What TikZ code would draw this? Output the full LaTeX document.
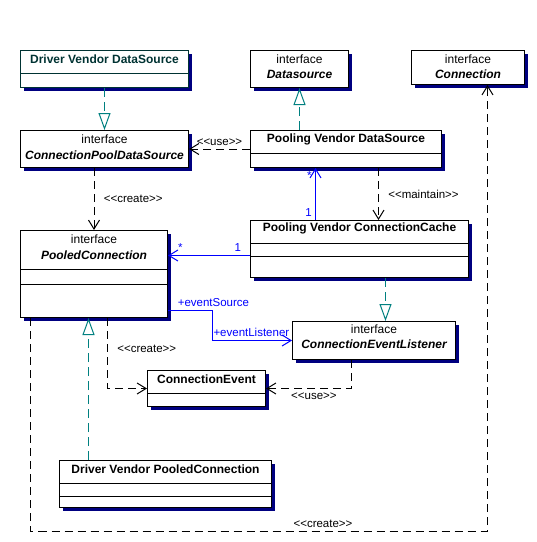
\documentclass[tikz,border=0pt]{standalone}
\usepackage{fontspec}
\setmainfont{Liberation Sans}
\usetikzlibrary{arrows.meta,shadows,positioning}
\definecolor{umlteal}{RGB}{0,128,128}
\definecolor{umlnavy}{RGB}{0,0,128}
\definecolor{umldark}{RGB}{0,51,51}
\definecolor{umlblue}{RGB}{0,0,255}
\begin{document}
\begin{tikzpicture}[
    x=1pt, y=-1pt,
    font=\fontsize{12}{14}\selectfont,
    cls/.style={draw, line width=1pt, fill=white, anchor=north west, inner sep=0pt,
        drop shadow={shadow xshift=3pt, shadow yshift=-3pt, fill=umlnavy, opacity=1}},
    cname/.style={font=\fontsize{12}{14}\selectfont\bfseries},
    iname/.style={font=\fontsize{12}{14}\selectfont\bfseries\itshape},
    stereo/.style={font=\fontsize{11.5}{13}\selectfont},
    sep/.style={line width=1pt},
    real/.style={draw=umlteal, line width=1pt, dash pattern=on 9pt off 5pt,
        -{Triangle[open, length=17pt, width=12pt, line width=1pt, fill=white]}},
    dep/.style={line width=1pt, dash pattern=on 8pt off 5pt,
        -{Straight Barb[length=9pt, width=11pt, line width=1pt]}},
    assoc/.style={draw=umlblue, line width=1pt,
        -{Straight Barb[length=9pt, width=11pt, line width=1pt]}},
    role/.style={text=umlblue, font=\fontsize{11.5}{13}\selectfont}
]
    \useasboundingbox (0,0) rectangle (537,542);

    % top row
    \node[cls, draw=umldark, minimum width=168, minimum height=37] (dvds) at (20,50) {};
    \node[cname, text=umldark] (dvds-t) at ([yshift=-9]dvds.north) {Driver Vendor DataSource};
    \draw[sep, umldark] (dvds.west |- 0,73) -- (dvds.east |- 0,73);

    \node[cls, minimum width=98, minimum height=37] (ds) at (250,50) {};
    \node (ds-s) at ([yshift=-9]ds.north) {interface};
    \node[iname] (ds-t) at ([yshift=-24]ds.north) {Datasource};

    \node[cls, minimum width=113, minimum height=34] (conn) at (411,50) {};
    \node (conn-s) at ([yshift=-9]conn.north) {interface};
    \node[iname] (conn-t) at ([yshift=-24]conn.north) {Connection};

    % second row
    \node[cls, minimum width=168, minimum height=37] (cpds) at (20,130) {};
    \node (cpds-s) at ([yshift=-9]cpds.north) {interface};
    \node[iname] (cpds-t) at ([yshift=-25]cpds.north) {ConnectionPoolDataSource};

    \node[cls, minimum width=191, minimum height=37] (pvds) at (250,130) {};
    \node[cname] (pvds-t) at ([yshift=-9]pvds.north) {Pooling Vendor DataSource};
    \draw[sep] (pvds.west |- 0,153) -- (pvds.east |- 0,153);

    % middle
    \node[cls, minimum width=147, minimum height=87] (pc) at (20,230) {};
    \node (pc-s) at ([yshift=-9]pc.north) {interface};
    \node[iname] (pc-t) at ([yshift=-25]pc.north) {PooledConnection};
    \draw[sep] (pc.west |- 0,269) -- (pc.east |- 0,269);
    \draw[sep] (pc.west |- 0,284) -- (pc.east |- 0,284);

    \node[cls, minimum width=218, minimum height=57] (pvcc) at (250,220) {};
    \node[cname] (pvcc-t) at ([yshift=-8]pvcc.north) {Pooling Vendor ConnectionCache};
    \draw[sep] (pvcc.west |- 0,243) -- (pvcc.east |- 0,243);
    \draw[sep] (pvcc.west |- 0,256) -- (pvcc.east |- 0,256);

    \node[cls, minimum width=163, minimum height=38] (cel) at (292,321) {};
    \node (cel-s) at ([yshift=-8]cel.north) {interface};
    \node[iname] (cel-t) at ([yshift=-23]cel.north) {ConnectionEventListener};

    \node[cls, minimum width=118, minimum height=36] (ce) at (147,370) {};
    \node[cname] (ce-t) at ([yshift=-9]ce.north) {ConnectionEvent};
    \draw[sep] (ce.west |- 0,393) -- (ce.east |- 0,393);

    % bottom
    \node[cls, minimum width=212, minimum height=47] (dvpc) at (59,460) {};
    \node[cname] (dvpc-t) at ([yshift=-9]dvpc.north) {Driver Vendor PooledConnection};
    \draw[sep] (dvpc.west |- 0,483) -- (dvpc.east |- 0,483);
    \draw[sep] (dvpc.west |- 0,496) -- (dvpc.east |- 0,496);

    % realizations
    \draw[real] (dvds) -- (cpds);
    \draw[real] (pvds.north -| ds.south) -- (ds.south);
    \draw[real] ([xshift=11.5]cel.north |- pvcc.south) -- ([xshift=11.5]cel.north);
    \draw[real] ([xshift=-5.5]pc.south |- dvpc.north) -- ([xshift=-5.5]pc.south);

    % dependencies
    \draw[dep] (pvds) -- (cpds) node[midway, above, stereo] {<{}<use>{}>};
    \draw[dep] (cpds.south -| pc.north) -- (pc.north) node[midway, right=6pt, stereo] {<{}<create>{}>};
    \draw[dep] ([xshift=32.5]pvds.south) -- ([xshift=32.5]pvds.south |- pvcc.north)
        node[midway, right=6pt, stereo] {<{}<maintain>{}>};
    \draw[dep] ([xshift=13.5]pc.south) |- (ce.west) node[pos=0.22, right=6pt, stereo] {<{}<create>{}>};
    \draw[dep] ([xshift=-22.5]cel.south) |- (ce.east) node[pos=0.72, below, stereo] {<{}<use>{}>};
    \draw[dep] ([xshift=-63.5]pc.south) -- ++(0,213) -| ([xshift=19.5]conn.south)
        node[pos=0.32, above, stereo] {<{}<create>{}>};

    % associations
    \draw[assoc] ([xshift=-30.5]pvds.south |- pvcc.north) -- ([xshift=-30.5]pvds.south)
        node[pos=0.15, left, role] {1}
        node[pos=0.85, left, role] {*};
    \draw[assoc] ([yshift=-6.5]pvcc.west) -- ([yshift=-6.5]pvcc.west -| pc.east)
        node[pos=0.15, above, role] {1}
        node[pos=0.85, above, role] {*};
    \draw[assoc] ([yshift=-36.5]pc.east) node[above right, xshift=6pt, role] {+eventSource}
        -- ++(44,0) |- (cel.west)
        node[pos=0.5, above right, inner xsep=1pt, role] {+eventListener};
\end{tikzpicture}
\end{document}
